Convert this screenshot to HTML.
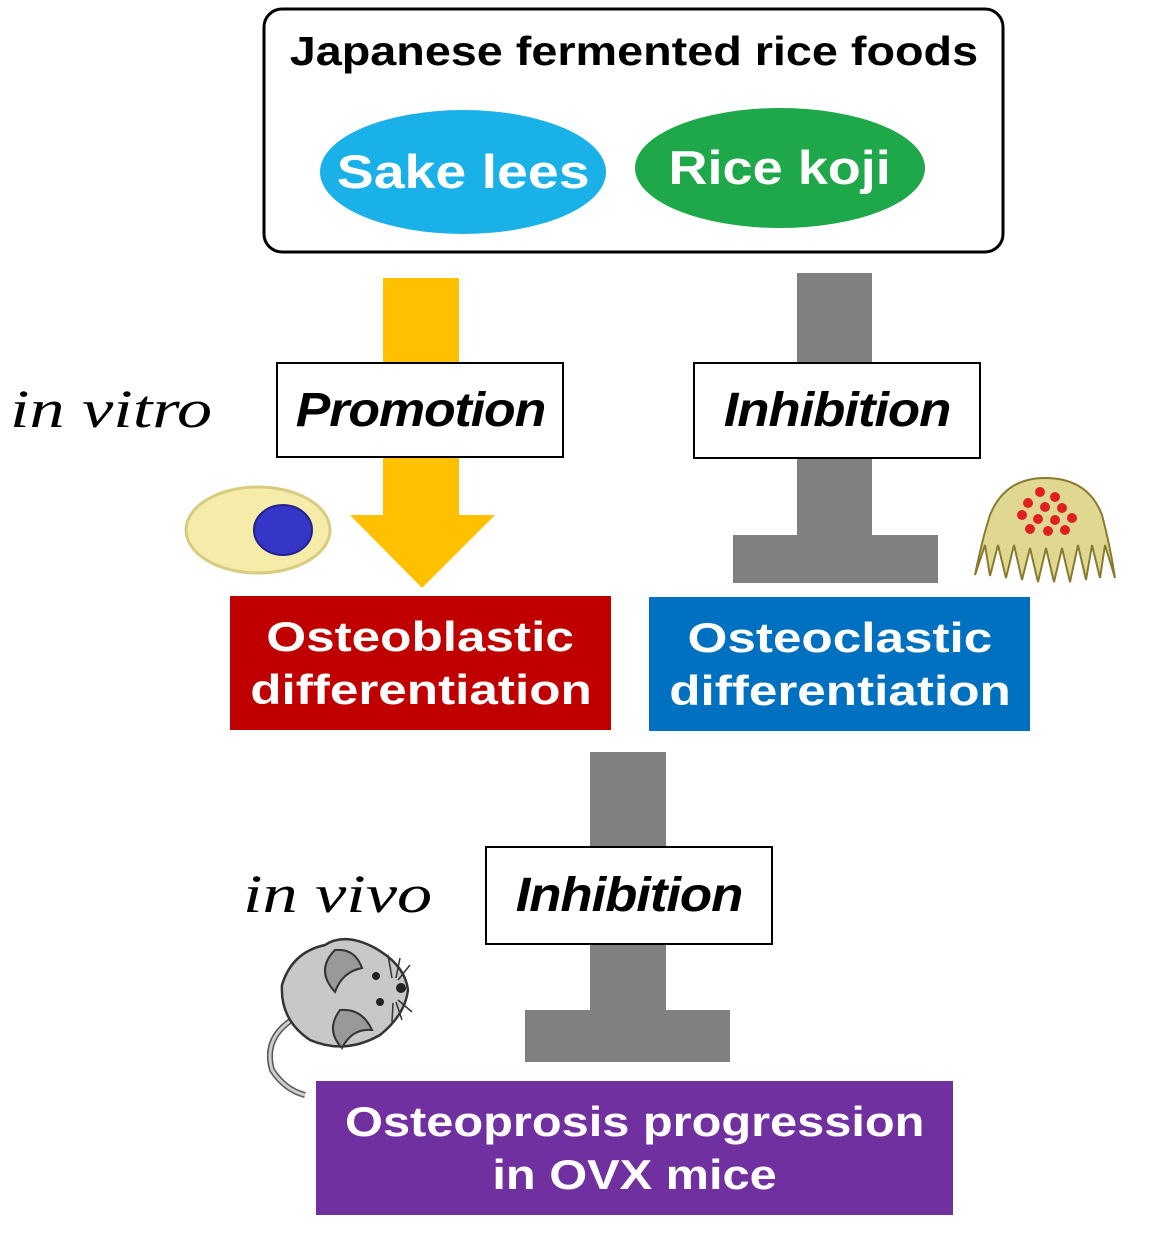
<!DOCTYPE html>
<html><head><meta charset="utf-8"><style>
body{margin:0;width:1150px;height:1242px;background:#fff;position:relative;overflow:hidden;font-family:"Liberation Sans",sans-serif}
.a{position:absolute}
.s{display:inline-block;white-space:nowrap}
.box{position:absolute;background:#fff;border:2px solid #000;box-sizing:border-box;display:flex;align-items:center;justify-content:center;font-weight:bold;font-style:italic;font-size:48px;letter-spacing:-1px}
.cb{position:absolute;color:#fff;font-weight:bold;font-size:42px;line-height:53px;text-align:center;display:flex;flex-direction:column;align-items:center;justify-content:center;box-sizing:border-box}
.ser{position:absolute;font-family:"Liberation Serif",serif;font-style:italic;font-size:54px}
</style></head><body>
<svg class="a" style="left:0;top:0" width="1150" height="1242">
<rect x="264" y="9" width="739" height="243" rx="18" fill="#fff" stroke="#000" stroke-width="3"/>
<ellipse cx="463" cy="172" rx="143" ry="62" fill="#1ab0e8"/>
<ellipse cx="780" cy="168" rx="145" ry="60" fill="#1ea84a"/>
<polygon points="383,278 459,278 459,515 495,515 422,588 350,515 383,515" fill="#ffc000"/>
<rect x="797" y="273" width="75" height="265" fill="#808080"/>
<rect x="733" y="535" width="205" height="48" fill="#808080"/>
<rect x="590" y="752" width="76" height="260" fill="#808080"/>
<rect x="525" y="1010" width="205" height="52" fill="#808080"/>
<ellipse cx="258" cy="530" rx="72" ry="43" fill="#f4eca8" stroke="#d8cc80" stroke-width="3"/>
<ellipse cx="283" cy="530" rx="29" ry="25" fill="#3535c8" stroke="#22228a" stroke-width="2"/>
<path d="M975,575 Q982,540 990,515 Q1005,478 1045,478 Q1088,478 1102,515 Q1110,545 1115,578 L1105,545 L1100,578 L1092,545 L1086,580 L1078,545 L1070,582 L1062,548 L1054,582 L1046,548 L1038,582 L1030,548 L1022,580 L1014,545 L1006,578 L998,545 L990,576 L985,545 Z" fill="#e0d890" stroke="#8a7a30" stroke-width="2"/>
<g fill="#e02020"><circle cx="1040" cy="492" r="5"/><circle cx="1055" cy="497" r="5"/><circle cx="1028" cy="503" r="5"/><circle cx="1045" cy="507" r="5"/><circle cx="1062" cy="508" r="5"/><circle cx="1022" cy="515" r="5"/><circle cx="1038" cy="519" r="5"/><circle cx="1055" cy="520" r="5"/><circle cx="1072" cy="518" r="5"/><circle cx="1030" cy="529" r="5"/><circle cx="1048" cy="531" r="5"/><circle cx="1065" cy="530" r="5"/></g>
<path d="M300,1015 Q262,1035 272,1070 Q285,1090 305,1095" fill="none" stroke="#555" stroke-width="6"/>
<path d="M300,1015 Q262,1035 272,1070 Q285,1090 305,1095" fill="none" stroke="#ccc" stroke-width="3"/>
<path d="M325,945 Q345,932 375,948 Q405,965 408,990 Q405,1015 380,1035 Q345,1055 310,1040 Q280,1020 282,985 Q292,952 325,945 Z" fill="#c8c8c8" stroke="#333" stroke-width="2.5"/>
<path d="M335,950 Q315,970 335,992 Q342,972 362,968 Q355,948 335,950 Z" fill="#999" stroke="#333" stroke-width="2"/>
<path d="M340,1010 Q325,1030 342,1048 Q352,1028 372,1030 Q362,1008 340,1010 Z" fill="#999" stroke="#333" stroke-width="2"/>
<circle cx="376" cy="976" r="4" fill="#222"/><circle cx="380" cy="1002" r="4" fill="#222"/>
<circle cx="401" cy="988" r="5" fill="#222"/>
<g stroke="#333" stroke-width="1.5" fill="none"><path d="M392,978 L388,955"/><path d="M396,978 L400,958"/><path d="M398,980 L410,965"/><path d="M398,1000 L412,1012"/><path d="M396,1002 L402,1020"/><path d="M393,1003 L392,1022"/></g>
</svg>
<div class="a" style="left:264px;top:28px;width:739px;text-align:center;font-weight:bold;font-size:41px"><span class="s" style="transform:scaleX(1.14)">Japanese fermented rice foods</span></div>
<div class="a" style="left:320px;top:144px;width:286px;text-align:center;font-weight:bold;font-size:47px;color:#fff"><span class="s" style="transform:scaleX(1.18)">Sake lees</span></div>
<div class="a" style="left:635px;top:140px;width:290px;text-align:center;font-weight:bold;font-size:47px;color:#fff"><span class="s" style="transform:scaleX(1.15)">Rice koji</span></div>
<div class="box" style="left:276px;top:362px;width:288px;height:96px"><span class="s" style="transform:scaleX(1.08)">Promotion</span></div>
<div class="box" style="left:693px;top:362px;width:288px;height:97px"><span class="s" style="transform:scaleX(1.1)">Inhibition</span></div>
<div class="box" style="left:485px;top:846px;width:288px;height:99px"><span class="s" style="transform:scaleX(1.1)">Inhibition</span></div>
<div class="ser" style="left:10px;top:378px"><span class="s" style="transform:scaleX(1.3);transform-origin:left">in vitro</span></div>
<div class="ser" style="left:243px;top:863px"><span class="s" style="transform:scaleX(1.3);transform-origin:left">in vivo</span></div>
<div class="cb" style="left:230px;top:596px;width:381px;height:134px;background:#c00000"><span class="s" style="transform:scaleX(1.22)">Osteoblastic</span><span class="s" style="transform:scaleX(1.22)">differentiation</span></div>
<div class="cb" style="left:649px;top:597px;width:381px;height:134px;background:#0070c0"><span class="s" style="transform:scaleX(1.22)">Osteoclastic</span><span class="s" style="transform:scaleX(1.22)">differentiation</span></div>
<div class="cb" style="left:316px;top:1081px;width:637px;height:134px;background:#7030a0"><span class="s" style="transform:scaleX(1.16)">Osteoprosis progression</span><span class="s" style="transform:scaleX(1.16)">in OVX mice</span></div>
</body></html>
